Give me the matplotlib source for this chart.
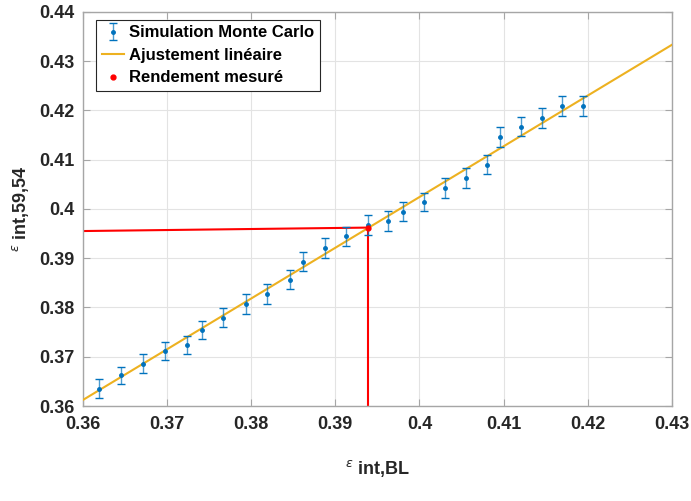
import matplotlib
matplotlib.use("Agg")
import matplotlib.pyplot as plt
import numpy as np

plt.rcParams['font.family'] = ['Liberation Sans', 'DejaVu Sans']
plt.rcParams['mathtext.fontset'] = 'dejavusans'

# Monte Carlo simulation points
eps_bl = [0.3619, 0.3645, 0.3672, 0.3698, 0.3724, 0.3742, 0.3767, 0.3794, 0.3819,
          0.3846, 0.3862, 0.3888, 0.3913, 0.3939, 0.3963, 0.3980, 0.4005, 0.4030,
          0.4055, 0.4080, 0.4096, 0.4121, 0.4145, 0.4169, 0.4194]
eps_5954 = [0.3635, 0.3662, 0.3686, 0.3712, 0.3724, 0.3754, 0.3779, 0.3807, 0.3827,
            0.3856, 0.3893, 0.3921, 0.3944, 0.3967, 0.3975, 0.3994, 0.4014, 0.4043,
            0.4063, 0.4090, 0.4146, 0.4167, 0.4185, 0.4209, 0.4209]
err = [0.0019, 0.0018, 0.0019, 0.0018, 0.0019, 0.0019, 0.0019, 0.0020, 0.0020,
       0.0019, 0.0020, 0.0020, 0.0019, 0.0020, 0.0020, 0.0019, 0.0019, 0.0020,
       0.0020, 0.0020, 0.0020, 0.0020, 0.0020, 0.0020, 0.0020]

# linear fit
fit_x = [0.36, 0.43]
fit_y = [0.3612, 0.4333]

# measured yield
meas_x = 0.3939
meas_y = 0.3962
line_left_y = 0.3955

fig = plt.figure(figsize=(6.91, 5.01), dpi=100)
ax = fig.add_axes([0.1197, 0.1896, 0.8528, 0.787])

blue = '#0072BD'
orange = '#EDB120'

ax.plot([0.36, meas_x], [line_left_y, meas_y], color='red', lw=1.5, zorder=2)
ax.plot([meas_x, meas_x], [0.36, meas_y], color='red', lw=1.5, zorder=2)
ax.plot(fit_x, fit_y, color=orange, lw=1.5, zorder=3, label='Ajustement linéaire')
eb = ax.errorbar(eps_bl, eps_5954, yerr=err, fmt='.', color=blue, ecolor=blue,
                 elinewidth=1.0, capsize=3, capthick=1.0, markersize=5,
                 zorder=4, label='Simulation Monte Carlo')
for c in eb[2]:
    c.set_alpha(0.7)
ax.plot([meas_x], [meas_y], '.', color='red', markersize=7, zorder=5,
        label='Rendement mesuré')

ax.set_xlim(0.36, 0.43)
ax.set_ylim(0.36, 0.44)
ax.set_xticks(np.arange(0.36, 0.4301, 0.01))
ax.set_yticks(np.arange(0.36, 0.4401, 0.01))
ax.set_xticklabels(['0.36', '0.37', '0.38', '0.39', '0.4', '0.41', '0.42', '0.43'])
ax.set_yticklabels(['0.36', '0.37', '0.38', '0.39', '0.4', '0.41', '0.42', '0.43', '0.44'])

ax.grid(True, color='#E3E3E3', lw=0.8)
ax.set_axisbelow(True)
for s in ax.spines.values():
    s.set_color('#A6A6A6')
    s.set_linewidth(1.0)
ax.tick_params(direction='in', top=True, right=True, length=5, width=0.8,
               color='#A6A6A6', labelsize=13, labelcolor='#262626')
ax.tick_params(axis='x', pad=7)
ax.tick_params(axis='y', pad=6)
for t in ax.get_xticklabels() + ax.get_yticklabels():
    t.set_fontweight('bold')

ax.set_xlabel(r'$^{\epsilon}$ int,BL', fontsize=13, fontweight='bold',
              color='#262626', labelpad=18)
ax.set_ylabel(r'$^{\epsilon}$ int,59,54', fontsize=13, fontweight='bold',
              color='#262626', labelpad=6)

h, l = ax.get_legend_handles_labels()
order = [l.index('Simulation Monte Carlo'), l.index('Ajustement linéaire'),
         l.index('Rendement mesuré')]
leg = ax.legend([h[i] for i in order], [l[i] for i in order], loc='upper left',
                bbox_to_anchor=(0.023, 0.98), fancybox=False, framealpha=1,
                edgecolor='#262626', handlelength=1.3, handletextpad=0.3,
                borderpad=0.35, labelspacing=0.45, borderaxespad=0.0,
                prop={'size': 12, 'weight': 'bold'})
leg.get_frame().set_linewidth(0.8)

fig.savefig('out.png', dpi=100)
